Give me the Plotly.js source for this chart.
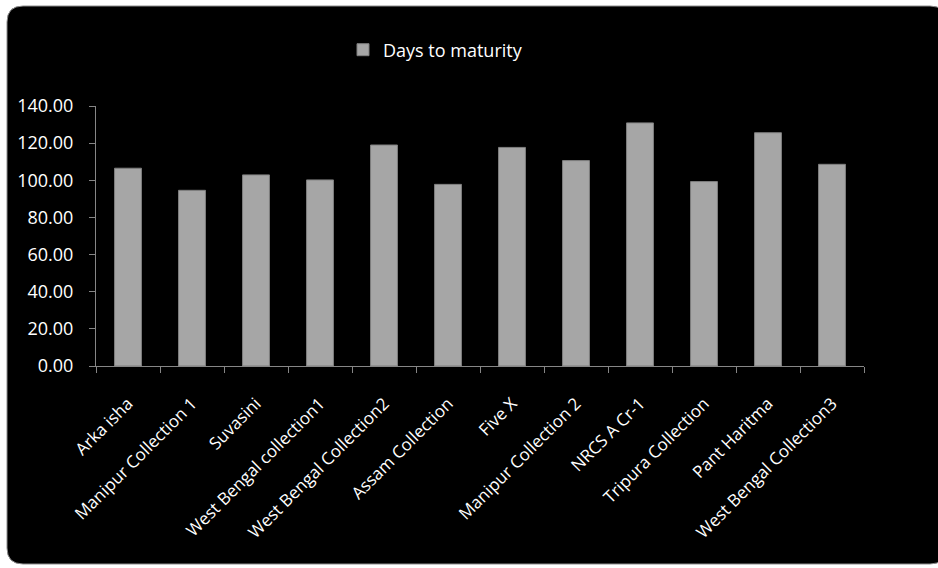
<!DOCTYPE html>
<html>
<head>
<meta charset="utf-8">
<script src="https://cdn.plot.ly/plotly-3.0.1.min.js"></script>
<style>
  html, body { margin: 0; padding: 0; background: #ffffff; }
  #chart { width: 938px; height: 568px; }
</style>
</head>
<body>
<div id="chart"></div>
<script>
// Chilli genotypes and their days to maturity
const genotypes = [
  "Arka isha", "Manipur Collection 1", "Suvasini", "West Bengal collection1",
  "West Bengal Collection2", "Assam Collection", "Five X", "Manipur Collection 2",
  "NRCS A Cr-1", "Tripura Collection", "Pant Haritma", "West Bengal Collection3"
];
const daysToMaturity = [106.5, 94.6, 102.9, 100.2, 119.0, 97.8, 117.7, 110.6, 130.9, 99.3, 125.6, 108.6];
const seriesName = "Days to maturity";
const yTickValues = [0, 20, 40, 60, 80, 100, 120, 140];

const FONT = "'Open Sans', 'DejaVu Sans', sans-serif";
const TEXT = "#ffffff";
const AXIS = "#868686";

// Plot area in pixels: x 96..864, y 106..366
const W = 768, H = 260;
const px = v => (v - 96) / W;
const py = v => (366 - v) / H;

// Black rounded panel behind the chart, in paper coordinates
const L = px(7), R = px(946), T = py(6), B = py(564);
const rx = 16 / W, ry = 16 / H;
const panel = `M ${L + rx},${T} L ${R - rx},${T} Q ${R},${T} ${R},${T - ry} ` +
  `L ${R},${B + ry} Q ${R},${B} ${R - rx},${B} L ${L + rx},${B} ` +
  `Q ${L},${B} ${L},${B + ry} L ${L},${T - ry} Q ${L},${T} ${L + rx},${T} Z`;

const trace = {
  type: "bar",
  x: genotypes,
  y: daysToMaturity,
  name: seriesName,
  marker: { color: "#a6a6a6", line: { color: "#7f7f7f", width: 1 } },
  hoverinfo: "x+y"
};

const layout = {
  width: 938,
  height: 568,
  margin: { l: 96, r: 74, t: 106, b: 202 },
  paper_bgcolor: "#ffffff",
  plot_bgcolor: "rgba(0,0,0,0)",
  font: { family: FONT, color: TEXT },
  bargap: 0.58,
  showlegend: true,
  legend: {
    orientation: "h",
    x: px(343), xanchor: "left",
    y: py(50), yanchor: "middle",
    font: { family: FONT, size: 18, color: TEXT },
    bgcolor: "rgba(0,0,0,0)"
  },
  xaxis: {
    type: "category",
    showgrid: false,
    showline: true,
    linecolor: AXIS,
    linewidth: 1,
    ticks: "outside",
    tickson: "boundaries",
    ticklen: 6,
    tickcolor: AXIS,
    tickangle: -45,
    ticklabelstandoff: 20,
    tickfont: { family: FONT, size: 17, color: TEXT },
    zeroline: false
  },
  yaxis: {
    range: [0, 140],
    tickvals: yTickValues,
    tickformat: ".2f",
    showgrid: false,
    showline: true,
    linecolor: AXIS,
    linewidth: 1,
    ticks: "outside",
    ticklen: 6,
    tickcolor: AXIS,
    ticklabelstandoff: 12,
    tickfont: { family: FONT, size: 18, color: TEXT },
    zeroline: false
  },
  shapes: [{
    type: "path",
    xref: "paper", yref: "paper",
    path: panel,
    fillcolor: "#000000",
    line: { color: "#8c8c8c", width: 1 },
    layer: "below"
  }]
};

Plotly.newPlot("chart", [trace], layout, { displayModeBar: false, staticPlot: true });
</script>
</body>
</html>
